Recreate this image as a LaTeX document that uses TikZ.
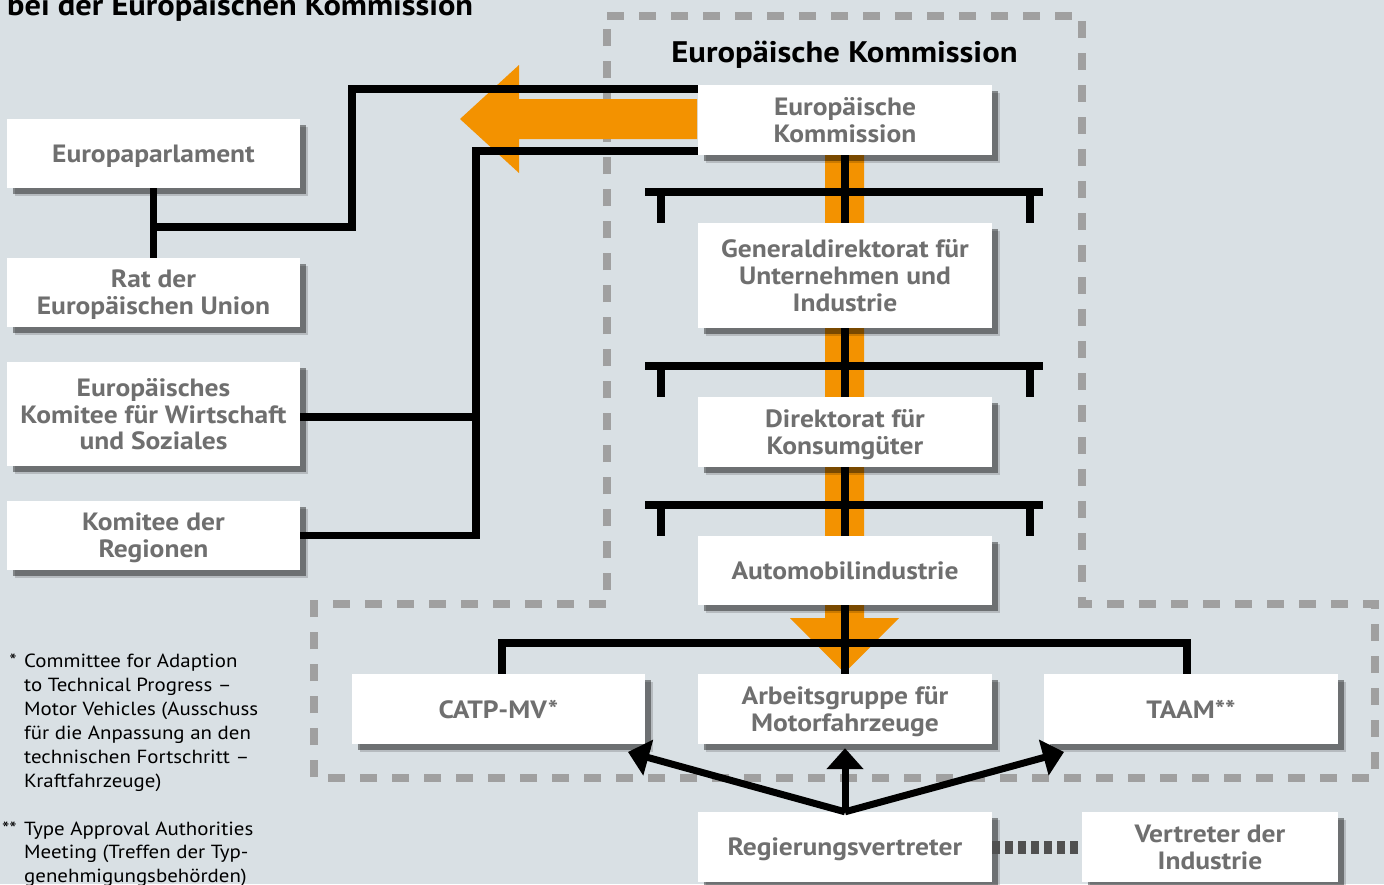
\documentclass[tikz,border=0pt]{standalone}
\usepackage{fontspec}
\setmainfont[FakeStretch=1.1]{PT Sans}
\usetikzlibrary{arrows.meta,shadows}
\definecolor{bg}{HTML}{D9E0E4}
\definecolor{dashgray}{HTML}{A0A0A0}
\definecolor{orng}{HTML}{F39200}
\definecolor{txtgray}{HTML}{6F6F6F}
\definecolor{dotgray}{HTML}{505050}
\begin{document}
\begin{tikzpicture}[x=1pt,y=-1pt,
  box/.style={fill=white, draw=none, text=txtgray,
    font=\bfseries\fontsize{25}{26.8}\selectfont, align=center, inner sep=0pt,
    text depth=-4pt,
    minimum width=294, minimum height=70,
    general shadow={fill=black, opacity=0.16, shadow xshift=7.5pt, shadow yshift=-7.5pt},
    general shadow={fill=black, opacity=0.4, shadow xshift=5.5pt, shadow yshift=-5.5pt}},
  conn/.style={line width=7.5pt, black},
  tbar/.style={line width=7.5pt, black},
  arr/.style={line width=7pt, black, -{Triangle[length=21pt,width=36pt]}},
  outline/.style={line width=8pt, dashgray, dash pattern=on 17pt off 15pt},
  dotconn/.style={line width=13pt, dotgray, dash pattern=on 8pt off 5pt},
  orangeshape/.style={fill=orng, draw=none},
  note/.style={anchor=base west, inner sep=0pt, font=\fontsize{19}{24}\selectfont, text=black}]
\useasboundingbox (0,0) rectangle (1384,884);
\fill[bg] (0,0) rectangle (1384,884);

% dashed outline
\draw[outline] (607,16) -- (1082,16) -- (1082,604) -- (1375,604) -- (1375,778)
  -- (314,778) -- (314,604) -- (607,604) -- cycle;

% titles
\node[anchor=base west, inner sep=0pt, font=\bfseries\fontsize{29.5}{30}\selectfont] (title) at (7,15) {bei der Europäischen Kommission};
\node[anchor=base, inner sep=0pt, font=\bfseries\fontsize{29.7}{30}\selectfont] (ektitle) at (844.5,62) {Europäische Kommission};

% orange arrows
\fill[orangeshape] (697,99) -- (519,99) -- (519,65) -- (460,119) -- (519,173) -- (519,139) -- (697,139) -- cycle;
\fill[orangeshape] (825,155) -- (825,618) -- (790,618) -- (844.5,673) -- (899,618) -- (864,618) -- (864,155) -- cycle;

% junction coordinates
\coordinate (j1) at (153.5,227);
\coordinate (j2) at (476,151);

% connectors
\draw[conn] (698,89) -- (352,89) |- (j1);
\draw[conn] (153.5,188) -- (153.5,258);
\draw[conn] (698,151) -- (j2) |- (300,535.5);
\draw[conn] (300,417) -- (476,417);
\draw[conn] (845,155) -- (845,674);

% T-bars
\foreach \yy in {192,366,505}{
  \draw[tbar] (645,\yy) -- (1043,\yy);
  \draw[tbar] (661,\yy) -- (661,\yy+31);
  \draw[tbar] (1030,\yy) -- (1030,\yy+31);
}
\draw[conn] (502,674) -- (502,643) -- (1187,643) -- (1187,674);

% boxes
\node[box, minimum width=293, minimum height=69] (ep) at (153.5,153.5) {Europaparlament};
\node[box, minimum width=293, minimum height=69] (rat) at (153.5,292.5) {Rat der\\Europäischen Union};
\node[box, minimum width=293, minimum height=104] (wi) at (153.5,414) {Europäisches\\Komitee für Wirtschaft\\und Soziales};
\node[box, minimum width=293, minimum height=69] (kr) at (153.5,535.5) {Komitee der\\Regionen};
\node[box] (ek) at (845,120) {Europäische\\Kommission};
\node[box, minimum height=105] (gd) at (845,275.5) {Generaldirektorat für\\Unternehmen und\\Industrie};
\node[box] (dk) at (845,432) {Direktorat für\\Konsumgüter};
\node[box, minimum height=69] (am) at (845,570.5) {Automobilindustrie};
\node[box, minimum width=293] (catp) at (498.5,709) {CATP-MV*};
\node[box] (ag) at (845,709) {Arbeitsgruppe für\\Motorfahrzeuge};
\node[box] (taam) at (1191,709) {TAAM**};
\node[box] (rv) at (845,847) {Regierungsvertreter};
\node[box, minimum width=256] (vi) at (1210,847) {Vertreter der\\Industrie};

% arrows from Regierungsvertreter
\coordinate (tipL) at (628,752);
\coordinate (tipR) at (1064,752);
\draw[arr] (rv.north) -- (tipL);
\draw[arr] (rv.north) -- (tipR);
\draw[arr] (rv.north) -- ([yshift=-4pt]ag.south);

% dotted connector
\draw[dotconn] (rv.east) -- (vi.west);

% footnotes
\node[note, anchor=base east] (st1) at (17,667) {*};
\node[note] (fn1) at (24,667) {\vtop{\baselineskip=24pt\hbox{Committee for Adaption}\hbox{to Technical Progress –}\hbox{Motor Vehicles (Ausschuss}\hbox{für die Anpassung an den}\hbox{technischen Fortschritt –}\hbox{Kraftfahrzeuge)}}};
\node[note, anchor=base east] (st2) at (17,835) {**};
\node[note] (fn2) at (24,835) {\vtop{\baselineskip=23.5pt\hbox{Type Approval Authorities}\hbox{Meeting (Treffen der Typ-}\hbox{genehmigungsbehörden)}}};
\end{tikzpicture}
\end{document}
